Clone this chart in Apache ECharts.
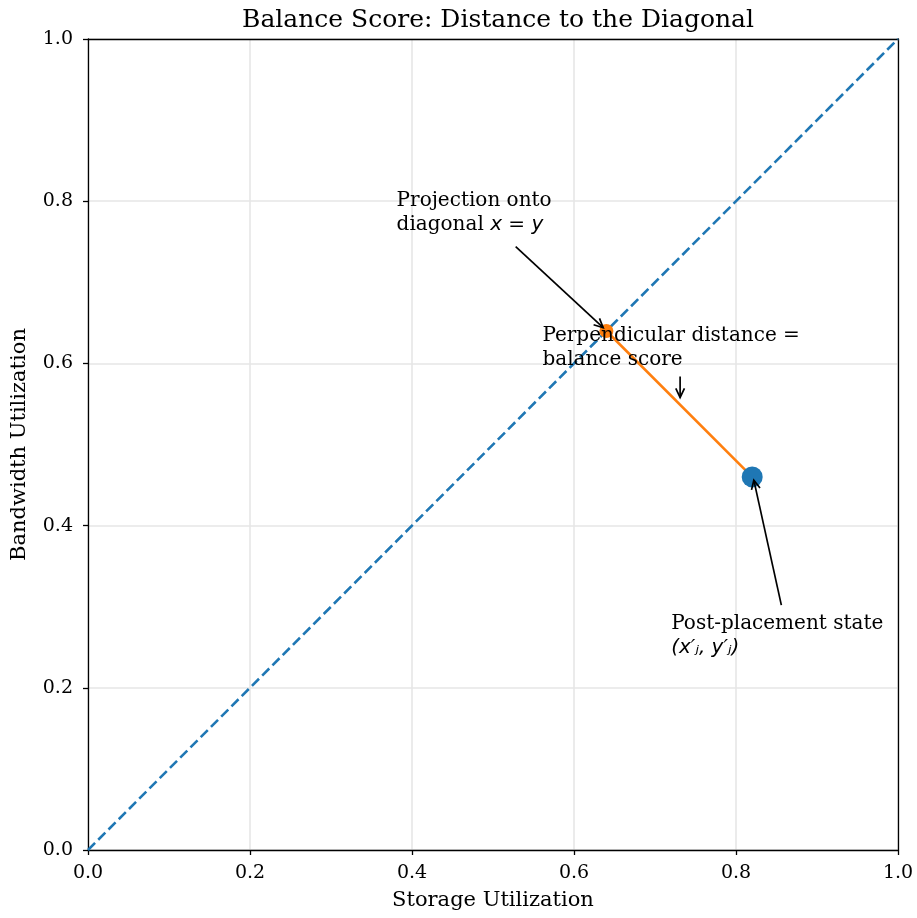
<!DOCTYPE html>
<html>
<head>
<meta charset="utf-8">
<script src="https://cdn.jsdelivr.net/npm/echarts@6/dist/echarts.min.js"></script>
<style>
  html, body { margin: 0; padding: 0; background: #fff; }
  #chart { width: 917px; height: 918px; }
</style>
</head>
<body>
<div id="chart"></div>
<script>
// Axis ticks
const xTicks = [0, 0.2, 0.4, 0.6, 0.8, 1.0];
const yTicks = [0, 0.2, 0.4, 0.6, 0.8, 1.0];

// Diagonal x = y
const diagonal = [[0, 0], [1, 1]];

// Post-placement state and its projection onto the diagonal
const statePoint = [0.82, 0.46];
const projectionPoint = [0.64, 0.64];
const distanceSegment = [statePoint, projectionPoint];

// Annotation arrows: [tailX, tailY, headX, headY]
const arrows = [
  [0.528, 0.744, 0.636, 0.644],
  [0.731, 0.584, 0.731, 0.558],
  [0.856, 0.302, 0.822, 0.456]
];

// Annotation texts anchored at their top-left corner: [x, y]
const notePositions = [
  [0.381, 0.815],
  [0.561, 0.649],
  [0.720, 0.294]
];
const noteTexts = [
  '{t|Projection onto}\n{t|diagonal }{m|x = y}',
  '{t|Perpendicular distance =}\n{t|balance score}',
  '{t|Post-placement state}\n{m|(x′ⱼ, y′ⱼ)}'
];

const SERIF = '"DejaVu Serif", "Liberation Serif", serif';
const MATH = '"DejaVu Sans", sans-serif';
const FS = 20;

const chart = echarts.init(document.getElementById('chart'), null, { renderer: 'canvas' });

const axisCommon = {
  type: 'value',
  min: 0,
  max: 1,
  interval: 0.2,
  axisLine: { show: true, onZero: false, lineStyle: { color: '#000', width: 1.3 } },
  axisTick: { show: true, inside: false, length: 5, lineStyle: { color: '#000', width: 1.3 } },
  axisLabel: {
    show: true,
    color: '#000',
    fontFamily: SERIF,
    fontSize: 19,
    formatter: v => v.toFixed(1)
  },
  splitLine: { show: true, lineStyle: { color: '#e6e6e6', width: 1.6 } },
  nameLocation: 'middle',
  nameTextStyle: { color: '#000', fontFamily: SERIF, fontSize: 21 }
};

const frameAxis = {
  type: 'value',
  min: 0,
  max: 1,
  axisLine: { show: true, onZero: false, lineStyle: { color: '#000', width: 1.3 } },
  axisTick: { show: false },
  axisLabel: { show: false },
  splitLine: { show: false }
};

chart.setOption({
  animation: false,
  backgroundColor: '#fff',
  title: {
    text: 'Balance Score: Distance to the Diagonal',
    left: 493,
    textAlign: 'center',
    top: 3,
    textStyle: { color: '#000', fontFamily: SERIF, fontSize: 25, fontWeight: 'normal' }
  },
  grid: { left: 88, right: 19, top: 39, bottom: 68, containLabel: false },
  xAxis: [
    Object.assign({}, axisCommon, {
      position: 'bottom',
      name: 'Storage Utilization',
      nameGap: 40,
      axisLabel: Object.assign({}, axisCommon.axisLabel, { margin: 14 })
    }),
    Object.assign({}, frameAxis, { position: 'top' })
  ],
  yAxis: [
    Object.assign({}, axisCommon, {
      position: 'left',
      name: 'Bandwidth Utilization',
      nameGap: 58,
      axisLabel: Object.assign({}, axisCommon.axisLabel, { margin: 15 })
    }),
    Object.assign({}, frameAxis, { position: 'right' })
  ],
  series: [
    {
      type: 'line',
      data: diagonal,
      showSymbol: false,
      symbol: 'none',
      lineStyle: { color: '#1f77b4', width: 2.6, type: [10, 4.5] },
      z: 2
    },
    {
      type: 'line',
      data: distanceSegment,
      symbol: 'none',
      lineStyle: { color: '#ff7f0e', width: 2.6 },
      z: 3
    },
    {
      type: 'scatter',
      data: [projectionPoint],
      symbol: 'circle',
      symbolSize: 14,
      itemStyle: { color: '#ff7f0e', opacity: 1 },
      z: 4
    },
    {
      type: 'scatter',
      data: [statePoint],
      symbol: 'circle',
      symbolSize: 21,
      itemStyle: { color: '#1f77b4', opacity: 1 },
      z: 5
    },
    {
      // open-headed annotation arrows
      type: 'custom',
      coordinateSystem: 'cartesian2d',
      data: arrows,
      encode: { x: [0, 2], y: [1, 3] },
      z: 6,
      renderItem: function (params, api) {
        const p0 = api.coord([api.value(0), api.value(1)]);
        const p1 = api.coord([api.value(2), api.value(3)]);
        const ang = Math.atan2(p1[1] - p0[1], p1[0] - p0[0]);
        const L = 10, spread = Math.PI / 7;
        const a = [p1[0] - L * Math.cos(ang - spread), p1[1] - L * Math.sin(ang - spread)];
        const b = [p1[0] - L * Math.cos(ang + spread), p1[1] - L * Math.sin(ang + spread)];
        const style = { stroke: '#000', lineWidth: 1.7, fill: null };
        return {
          type: 'group',
          children: [
            { type: 'line', shape: { x1: p0[0], y1: p0[1], x2: p1[0], y2: p1[1] }, style: style },
            { type: 'polyline', shape: { points: [a, p1, b] }, style: style }
          ]
        };
      }
    },
    {
      // annotation texts
      type: 'custom',
      coordinateSystem: 'cartesian2d',
      data: notePositions.map((p, i) => [p[0], p[1], i]),
      z: 7,
      renderItem: function (params, api) {
        const pt = api.coord([api.value(0), api.value(1)]);
        const idx = api.value(2);
        return {
          type: 'text',
          x: pt[0],
          y: pt[1],
          style: {
            text: noteTexts[idx],
            align: 'left',
            verticalAlign: 'top',
            fill: '#000',
            rich: {
              t: { fontFamily: SERIF, fontSize: FS, lineHeight: 24, fill: '#000' },
              m: { fontFamily: MATH, fontStyle: 'italic', fontSize: FS, lineHeight: 24, fill: '#000' }
            }
          }
        };
      }
    }
  ]
});
</script>
</body>
</html>
